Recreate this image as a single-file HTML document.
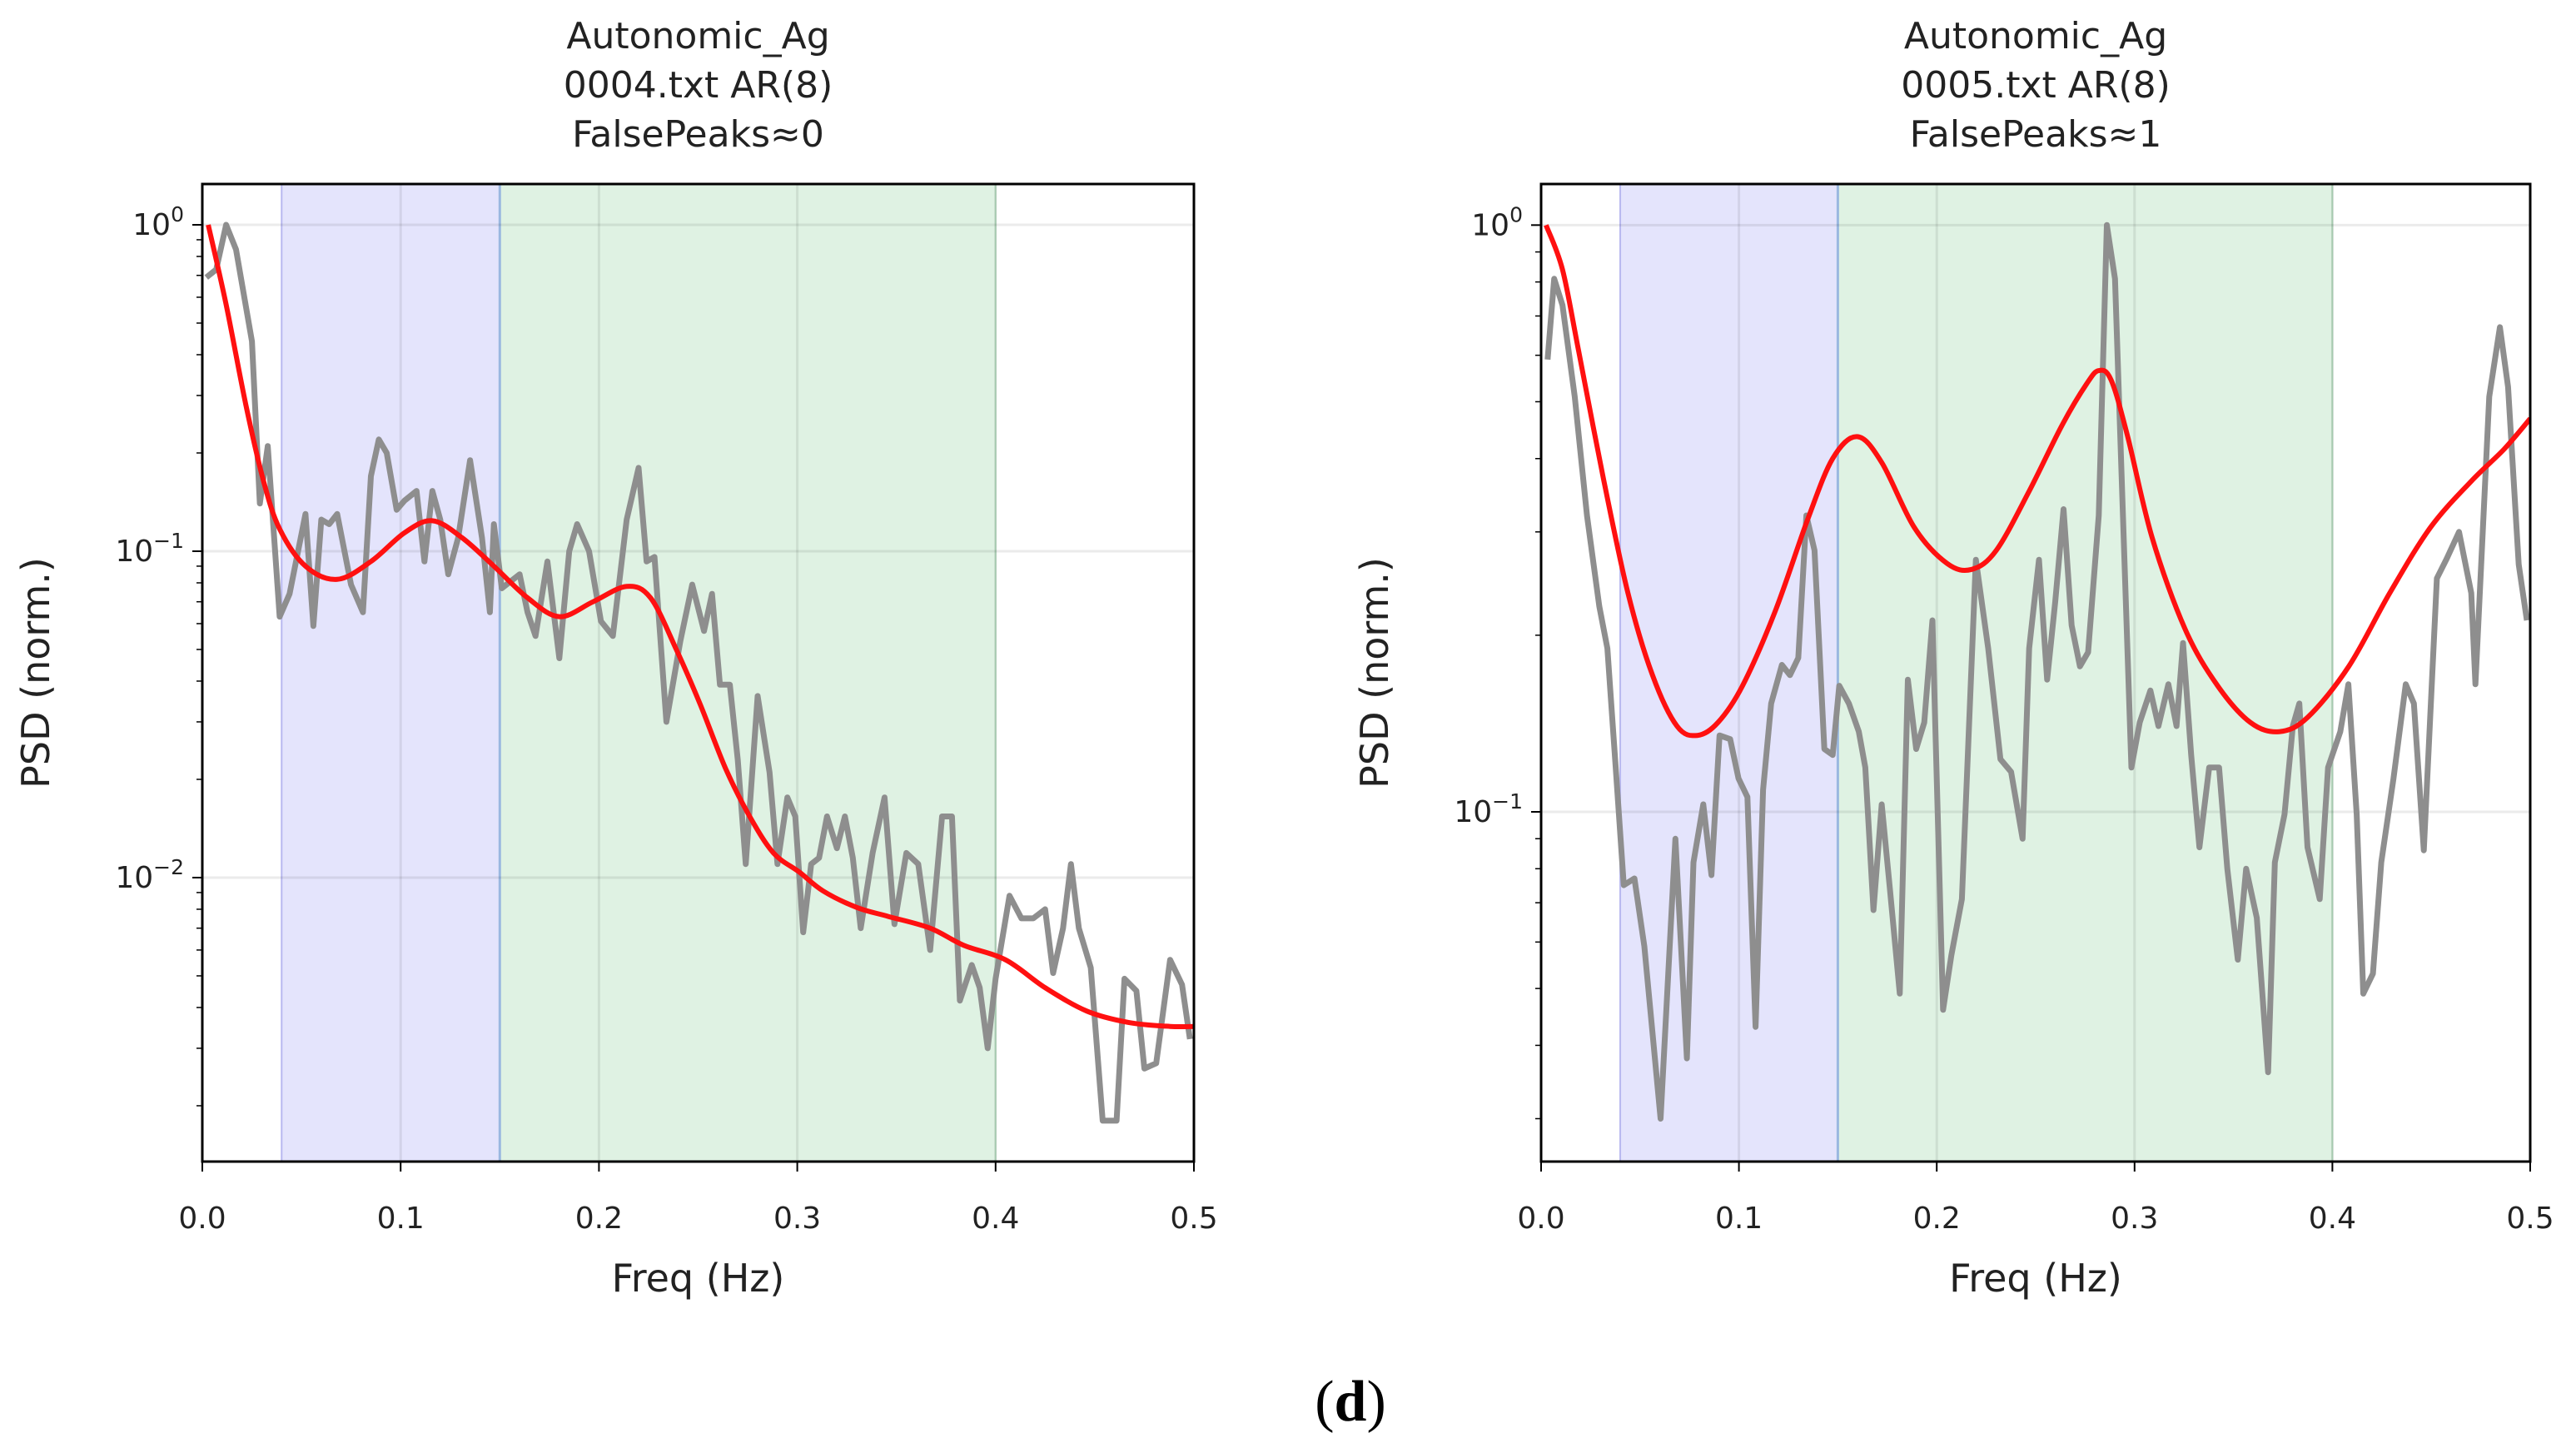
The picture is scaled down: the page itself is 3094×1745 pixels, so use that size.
<!DOCTYPE html>
<html><head><meta charset="utf-8"><style>
html,body{margin:0;padding:0;background:#fff;}
svg{display:block;font-family:"DejaVu Sans","Liberation Sans",sans-serif;}
</style></head><body>
<svg id="fig" width="3094" height="1745" viewBox="0 0 3094 1745" xmlns="http://www.w3.org/2000/svg">
<text x="1622" y="1706" font-family="Liberation Serif, serif" font-size="70" text-anchor="middle">(<tspan font-weight="bold">d</tspan>)</text>
</svg>
<script>
// ---- data: left panel (0004.txt) ----
const leftFreq = [.002,.007,.012,.017,.025,.029,.033,.039,.044,.052,.056,.060,.064,.068,.075,.081,.085,.089,.093,.098,.102,.108,.112,.116,.120,.124,.129,.135,.141,.145,.147,.151,.160,.164,.168,.174,.180,.185,.189,.195,.201,.207,.214,.220,.224,.228,.234,.241,.247,.253,.257,.261,.266,.270,.274,.280,.286,.290,.295,.299,.303,.307,.311,.315,.320,.324,.328,.332,.338,.344,.349,.355,.361,.367,.373,.378,.382,.388,.392,.396,.400,.407,.413,.419,.425,.429,.434,.438,.442,.448,.454,.461,.465,.471,.475,.481,.488,.494,.498];
const leftPsd = [.69,.73,1.0,.84,.44,.14,.21,.063,.074,.13,.059,.125,.121,.13,.079,.065,.17,.22,.20,.134,.143,.153,.093,.153,.125,.085,.11,.19,.11,.065,.121,.077,.085,.065,.055,.093,.047,.10,.121,.10,.061,.055,.125,.18,.093,.096,.030,.053,.079,.057,.074,.039,.039,.023,.011,.036,.021,.011,.0176,.0154,.0068,.011,.0115,.0154,.0123,.0154,.0115,.0070,.0119,.0176,.0072,.0119,.011,.006,.0154,.0154,.0042,.0054,.0046,.003,.0049,.0088,.0075,.0075,.008,.0051,.007,.011,.007,.0053,.0018,.0018,.0049,.0045,.0026,.0027,.0056,.0047,.0032];
const leftArFreq = [.003,.012,.022,.031,.039,.052,.068,.085,.102,.116,.131,.147,.164,.180,.197,.214,.226,.239,.251,.264,.276,.288,.301,.313,.330,.346,.367,.384,.405,.425,.446,.467,.488,.5];
const leftArPsd = [1.0,.57,.28,.163,.117,.090,.082,.093,.114,.124,.110,.090,.072,.063,.070,.078,.072,.050,.034,.0215,.0154,.0119,.0104,.0091,.0081,.0076,.0070,.0062,.0056,.0046,.0039,.0036,.0035,.0035];
// ---- data: right panel (0005.txt) ----
const rightFreq = [.0033,.0066,.0108,.017,.0232,.0294,.0335,.0377,.0418,.0472,.0522,.0604,.0679,.0737,.077,.082,.0861,.0902,.0956,.0998,.1043,.1084,.1122,.1163,.1217,.1258,.13,.1341,.1382,.1432,.1474,.1507,.1556,.1606,.1639,.168,.1722,.1763,.1813,.1854,.1896,.1937,.1978,.2032,.2074,.2127,.2198,.226,.2322,.2376,.2434,.2467,.2517,.2558,.2599,.2641,.2682,.2724,.2765,.2819,.286,.2901,.2984,.3026,.308,.3121,.3171,.3212,.3245,.3286,.3328,.3377,.3427,.3469,.3522,.3564,.3618,.3675,.3709,.3758,.38,.3833,.3874,.3936,.3978,.404,.4081,.4123,.4156,.4205,.4247,.4309,.4371,.4412,.4462,.4528,.4578,.464,.4702,.4723,.4793,.4847,.4888,.4942,.4983];
const rightPsd = [.59,.81,.73,.51,.32,.224,.19,.119,.075,.077,.059,.030,.090,.038,.082,.103,.078,.135,.133,.114,.106,.043,.109,.153,.178,.171,.183,.32,.279,.128,.125,.164,.153,.137,.119,.068,.103,.074,.049,.168,.128,.142,.212,.046,.057,.071,.269,.19,.123,.117,.090,.19,.269,.168,.228,.328,.208,.177,.187,.32,1.0,.81,.119,.142,.161,.14,.165,.14,.194,.125,.087,.119,.119,.080,.056,.080,.066,.036,.082,.099,.14,.153,.087,.071,.119,.137,.165,.099,.049,.053,.082,.114,.165,.153,.086,.25,.27,.30,.236,.165,.51,.67,.53,.264,.212];
const rightArFreq = [.0025,.0108,.019,.0315,.0439,.0563,.0687,.079,.0894,.1018,.1184,.1349,.1474,.1598,.1722,.1887,.2053,.2177,.2301,.2467,.2632,.2757,.2819,.2881,.2964,.3088,.3255,.342,.3586,.3731,.3876,.4083,.429,.4495,.4702,.4868,.5];
const rightArPsd = [1.0,.84,.61,.37,.236,.171,.140,.135,.142,.164,.22,.316,.40,.436,.394,.305,.265,.259,.279,.352,.455,.536,.565,.545,.438,.294,.205,.164,.142,.137,.145,.177,.236,.305,.366,.415,.468];
const xTicks = [0,0.1,0.2,0.3,0.4,0.5];
const xTickLabels = ["0.0","0.1","0.2","0.3","0.4","0.5"];
const lfBand = [0.04,0.15];
const hfBand = [0.15,0.4];
const leftTitle = ["Autonomic_Ag","0004.txt AR(8)","FalsePeaks≈0"];
const rightTitle = ["Autonomic_Ag","0005.txt AR(8)","FalsePeaks≈1"];
const leftDecades = [0,-1,-2];
const rightDecades = [0,-1];

const NS="http://www.w3.org/2000/svg";
const svg=document.getElementById('fig');
function mk(tag,attrs,parent){const e=document.createElementNS(NS,tag);for(const k in attrs)e.setAttribute(k,attrs[k]);(parent||svg).appendChild(e);return e;}
function smooth(pts){
  let d='M'+pts[0][0].toFixed(1)+','+pts[0][1].toFixed(1);
  for(let i=0;i<pts.length-1;i++){
    const p0=pts[Math.max(0,i-1)],p1=pts[i],p2=pts[i+1],p3=pts[Math.min(pts.length-1,i+2)];
    const c1=[p1[0]+(p2[0]-p0[0])/6,p1[1]+(p2[1]-p0[1])/6];
    const c2=[p2[0]-(p3[0]-p1[0])/6,p2[1]-(p3[1]-p1[1])/6];
    d+='C'+c1[0].toFixed(1)+','+c1[1].toFixed(1)+' '+c2[0].toFixed(1)+','+c2[1].toFixed(1)+' '+p2[0].toFixed(1)+','+p2[1].toFixed(1);
  }
  return d;
}

function panel(cfg){
  const {x0,x1,y0,y1,logTop,logBot,freq,psd,arF,arP,title,decades,id}=cfg;
  const sx=f=>x0+(f-0)/(0.5)*(x1-x0);
  const sy=v=>y0+(logTop-Math.log10(v))/(logTop-logBot)*(y1-y0);
  const g=mk('g',{});
  
  
  const cp=mk('clipPath',{id:id+'clip'},g);mk('rect',{x:x0,y:y0,width:x1-x0,height:y1-y0},cp);
  const lf=mk('rect',{x:sx(lfBand[0]),y:y0,width:sx(lfBand[1])-sx(lfBand[0]),height:y1-y0,fill:'#e4e4fc'},g);
  
  
  const hf=mk('rect',{x:sx(hfBand[0]),y:y0,width:sx(hfBand[1])-sx(hfBand[0]),height:y1-y0,fill:'#dff2e3'},g);
  
  
  mk('line',{x1:sx(lfBand[0]),x2:sx(lfBand[0]),y1:y0,y2:y1,stroke:'#b8b8f0','stroke-width':2},g);
  mk('line',{x1:sx(lfBand[1]),x2:sx(lfBand[1]),y1:y0,y2:y1,stroke:'#9ab8e0','stroke-width':3},g);
  mk('line',{x1:sx(hfBand[1]),x2:sx(hfBand[1]),y1:y0,y2:y1,stroke:'#b5dcbf','stroke-width':2},g);
  xTicks.forEach((t,i)=>{
    const X=sx(t);
    mk('line',{x1:X,x2:X,y1:y0,y2:y1,stroke:'#000','stroke-opacity':0.08,'stroke-width':3},g);
    mk('line',{x1:X,x2:X,y1:y1,y2:y1+12,stroke:'#000','stroke-width':2},g);
    const tl=mk('text',{x:X,y:y1+80,'font-size':36,'text-anchor':'middle',fill:'#222'},g);tl.textContent=xTickLabels[i];
    
    
  });
  decades.forEach(d=>{
    const Y=sy(Math.pow(10,d));
    mk('line',{x1:x0,x2:x1,y1:Y,y2:Y,stroke:'#000','stroke-opacity':0.08,'stroke-width':3},g);
    mk('line',{x1:x0-12,x2:x0,y1:Y,y2:Y,stroke:'#000','stroke-width':2},g);
    const tl=mk('text',{x:x0-22,y:Y+12,'font-size':36,'text-anchor':'end',fill:'#222'},g);
    tl.innerHTML='10<tspan dy="-16" font-size="25">'+(d===0?'0':'−'+(-d))+'</tspan>';
    
    
  });
  for(let d=Math.floor(logBot);d<Math.ceil(logTop);d++){for(let m=2;m<10;m++){const l=d+Math.log10(m);if(l>logBot&&l<logTop){const Y=sy(Math.pow(10,l));mk('line',{x1:x0-7,x2:x0,y1:Y,y2:Y,stroke:'#000','stroke-width':1.5},g);}}}
  const cg=mk('g',{'clip-path':'url(#'+id+'clip)'},g);
  const gp=mk('path',{d:freq.map((f,i)=>(i?'L':'M')+sx(f).toFixed(1)+','+sy(psd[i]).toFixed(1)).join(''),fill:'none',stroke:'#8e8e8e','stroke-width':7,'stroke-linejoin':'round'},cg);
  
  
  const rp=mk('path',{d:smooth(arF.map((f,i)=>[sx(f),sy(arP[i])])),fill:'none',stroke:'#ff1010','stroke-width':6,'stroke-linejoin':'round'},cg);
  
  
  const fr=mk('rect',{x:x0,y:y0,width:x1-x0,height:y1-y0,fill:'none',stroke:'#000','stroke-width':3},g);
  
  
  title.forEach((t,i)=>{const e=mk('text',{x:(x0+x1)/2,y:58+i*59,'font-size':44,'text-anchor':'middle',fill:'#222'},g);e.textContent=t;
    
    });
  const xl=mk('text',{x:(x0+x1)/2,y:y1+156,'font-size':46,'text-anchor':'middle',fill:'#222'},g);xl.textContent='Freq (Hz)';
  
  
  const yx=x0-184,yy=(y0+y1)/2;
  const yl=mk('text',{x:yx,y:yy,'font-size':46,'text-anchor':'middle',fill:'#222',transform:'rotate(-90 '+yx+' '+yy+')'},g);yl.textContent='PSD (norm.)';
  
  
}
panel({id:'left',x0:243,x1:1434,y0:221,y1:1395,logTop:0.125,logBot:-2.87,freq:leftFreq,psd:leftPsd,arF:leftArFreq,arP:leftArPsd,title:leftTitle,decades:leftDecades});
panel({id:'right',x0:1851,x1:3039,y0:221,y1:1395,logTop:0.07,logBot:-1.596,freq:rightFreq,psd:rightPsd,arF:rightArFreq,arP:rightArPsd,title:rightTitle,decades:rightDecades});
</script>
</body></html>
